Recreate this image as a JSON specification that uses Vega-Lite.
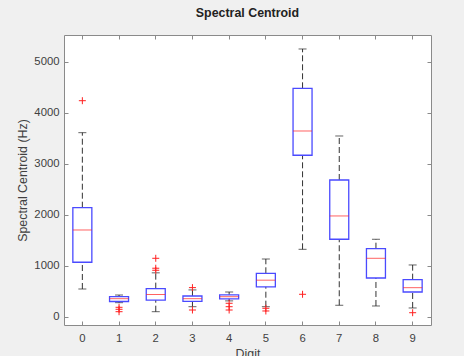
{
  "$schema": "https://vega.github.io/schema/vega-lite/v6.json",
  "width": 367,
  "height": 290,
  "autosize": {"type": "none"},
  "padding": {"left": 64, "top": 35, "right": 33, "bottom": 31},
  "background": "#f0f0f0",
  "config": {
    "view": {"fill": "white", "stroke": "#8a8a8a", "strokeWidth": 1},
    "font": "Liberation Sans",
    "axis": {"grid": false, "domain": false, "labelFont": "Liberation Sans", "titleFont": "Liberation Sans", "labelColor": "#404040", "titleColor": "#404040", "labelFontSize": 11.3, "titleFontSize": 12.4, "titleFontWeight": "normal", "tickColor": "#8a8a8a", "tickSize": -4}
  },
  "title": {"text": "Spectral Centroid", "font": "Liberation Sans", "fontSize": 12.4, "fontWeight": "bold", "color": "#222222", "offset": 2, "baseline": "bottom"},
  "datasets": {
    "boxes": [
      {"digit": "0", "lower": 543, "q1": 1067, "median": 1700, "q3": 2137, "upper": 3608},
      {"digit": "1", "lower": 275, "q1": 298, "median": 353, "q3": 392, "upper": 425},
      {"digit": "2", "lower": 98, "q1": 325, "median": 435, "q3": 550, "upper": 860},
      {"digit": "3", "lower": 196, "q1": 301, "median": 353, "q3": 406, "upper": 525},
      {"digit": "4", "lower": 310, "q1": 350, "median": 392, "q3": 428, "upper": 484},
      {"digit": "5", "lower": 196, "q1": 585, "median": 716, "q3": 851, "upper": 1131},
      {"digit": "6", "lower": 1321, "q1": 3165, "median": 3641, "q3": 4478, "upper": 5249},
      {"digit": "7", "lower": 224, "q1": 1518, "median": 1975, "q3": 2680, "upper": 3543},
      {"digit": "8", "lower": 210, "q1": 759, "median": 1145, "q3": 1333, "upper": 1518},
      {"digit": "9", "lower": 171, "q1": 484, "median": 569, "q3": 726, "upper": 1014}
    ],
    "outliers": [
      {"digit": "0", "value": 4235},
      {"digit": "1", "value": 184},
      {"digit": "1", "value": 145},
      {"digit": "1", "value": 98},
      {"digit": "2", "value": 910},
      {"digit": "2", "value": 950},
      {"digit": "2", "value": 1145},
      {"digit": "3", "value": 570},
      {"digit": "3", "value": 131},
      {"digit": "4", "value": 263},
      {"digit": "4", "value": 196},
      {"digit": "4", "value": 131},
      {"digit": "5", "value": 165},
      {"digit": "5", "value": 112},
      {"digit": "6", "value": 439},
      {"digit": "9", "value": 78}
    ]
  },
  "layer": [
    {
      "data": {"name": "boxes"},
      "mark": {"type": "rule", "color": "#333333", "strokeDash": [6, 3], "strokeWidth": 1},
      "encoding": {
        "x": {"field": "digit", "type": "ordinal", "scale": {"type": "band", "paddingInner": 0, "paddingOuter": 0},
              "axis": {"orient": "bottom", "labelAngle": 0, "title": "Digit", "bandPosition": 0.5, "labelPadding": 11, "titleY": 22, "titleBaseline": "top"}},
        "y": {"field": "lower", "type": "quantitative", "scale": {"domain": [-163, 5523], "nice": false, "zero": false},
              "axis": {"orient": "left", "values": [0, 1000, 2000, 3000, 4000, 5000], "format": "d", "title": "Spectral Centroid (Hz)", "labelPadding": 9, "titleX": -42, "titleY": 145, "titleBaseline": "middle"}},
        "y2": {"field": "q1"}
      }
    },
    {
      "data": {"name": "boxes"},
      "mark": {"type": "rule", "color": "#333333", "strokeDash": [6, 3], "strokeWidth": 1},
      "encoding": {
        "x": {"field": "digit", "type": "ordinal", "axis": {"orient": "top", "labels": false, "title": null, "bandPosition": 0.5}},
        "y": {"field": "q3", "type": "quantitative", "axis": {"orient": "right", "labels": false, "title": null, "values": [0, 1000, 2000, 3000, 4000, 5000]}},
        "y2": {"field": "upper"}
      }
    },
    {
      "data": {"name": "boxes"},
      "mark": {"type": "tick", "color": "#222222", "size": 8, "thickness": 1},
      "encoding": {
        "x": {"field": "digit", "type": "ordinal", "axis": null},
        "y": {"field": "lower", "type": "quantitative", "axis": null}
      }
    },
    {
      "data": {"name": "boxes"},
      "mark": {"type": "tick", "color": "#222222", "size": 8, "thickness": 1},
      "encoding": {
        "x": {"field": "digit", "type": "ordinal", "axis": null},
        "y": {"field": "upper", "type": "quantitative", "axis": null}
      }
    },
    {
      "data": {"name": "boxes"},
      "mark": {"type": "bar", "size": 19, "fill": "white", "fillOpacity": 0, "stroke": "#4a4aff", "strokeWidth": 1.3},
      "encoding": {
        "x": {"field": "digit", "type": "ordinal", "axis": null},
        "y": {"field": "q1", "type": "quantitative", "axis": null},
        "y2": {"field": "q3"}
      }
    },
    {
      "data": {"name": "boxes"},
      "mark": {"type": "tick", "color": "#ff2020", "size": 19, "thickness": 1},
      "encoding": {
        "x": {"field": "digit", "type": "ordinal", "axis": null},
        "y": {"field": "median", "type": "quantitative", "axis": null}
      }
    },
    {
      "data": {"name": "outliers"},
      "mark": {"type": "point", "shape": "M-1,0H1M0,-1V1", "filled": false, "stroke": "#ff2020", "strokeWidth": 1, "size": 49, "opacity": 1},
      "encoding": {
        "x": {"field": "digit", "type": "ordinal", "axis": null},
        "y": {"field": "value", "type": "quantitative", "axis": null}
      }
    }
  ],
  "resolve": {"axis": {"x": "independent", "y": "independent"}}
}
